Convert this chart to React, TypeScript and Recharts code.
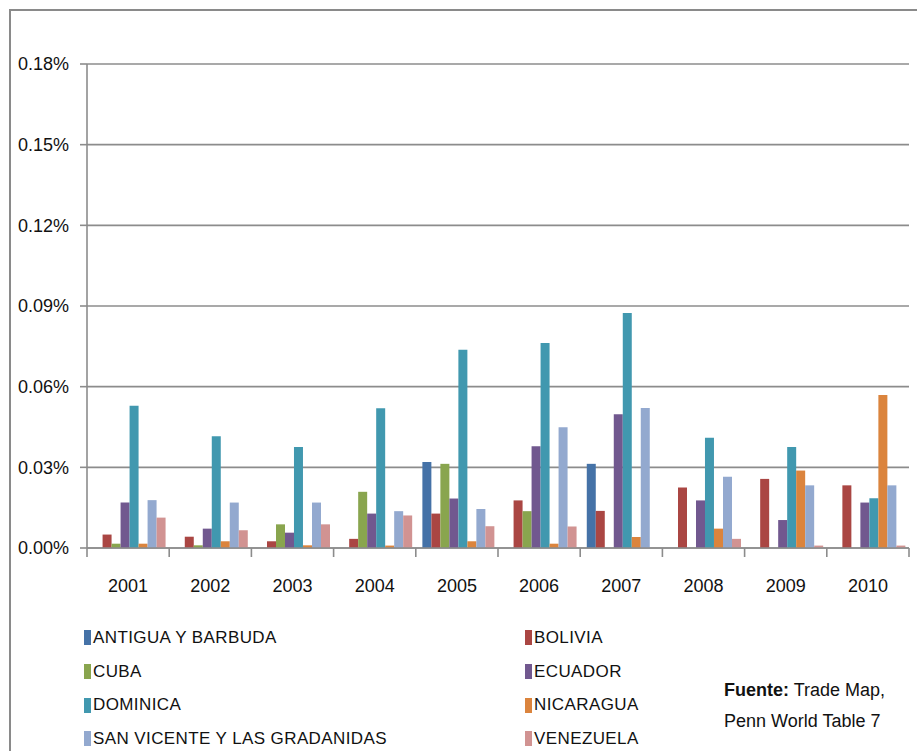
import React from "react"
import { BarChart, Bar, XAxis, YAxis, CartesianGrid, Legend } from "recharts"

// valores en % del PIB
const years = ["2001", "2002", "2003", "2004", "2005", "2006", "2007", "2008", "2009", "2010"]
const antigua = [0, 0, 0, 0, 0.032, 0, 0.0313, 0, 0, 0]
const bolivia = [0.005, 0.0042, 0.0025, 0.0034, 0.0128, 0.0177, 0.0138, 0.0225, 0.0257, 0.0233]
const cuba = [0.0016, 0.001, 0.0088, 0.0209, 0.0313, 0.0137, 0, 0, 0, 0]
const ecuador = [0.0169, 0.0072, 0.0057, 0.0128, 0.0184, 0.0378, 0.0497, 0.0177, 0.0104, 0.0169]
const dominica = [0.0529, 0.0416, 0.0376, 0.052, 0.0737, 0.0762, 0.0874, 0.041, 0.0376, 0.0185]
const nicaragua = [0.0016, 0.0025, 0.001, 0.0009, 0.0025, 0.0016, 0.0041, 0.0072, 0.0288, 0.0569]
const sanVicente = [0.0178, 0.0169, 0.0169, 0.0137, 0.0145, 0.0449, 0.0521, 0.0265, 0.0233, 0.0233]
const venezuela = [0.0113, 0.0066, 0.0088, 0.0121, 0.0081, 0.008, 0, 0.0034, 0.0009, 0.0009]
const yTicks = [0, 0.03, 0.06, 0.09, 0.12, 0.15, 0.18]

const series = [
  { key: "antigua", name: "ANTIGUA Y BARBUDA", values: antigua, color: "#4572A7" },
  { key: "bolivia", name: "BOLIVIA", values: bolivia, color: "#AA4643" },
  { key: "cuba", name: "CUBA", values: cuba, color: "#89A54E" },
  { key: "ecuador", name: "ECUADOR", values: ecuador, color: "#71588F" },
  { key: "dominica", name: "DOMINICA", values: dominica, color: "#4198AF" },
  { key: "nicaragua", name: "NICARAGUA", values: nicaragua, color: "#DB843D" },
  { key: "sanVicente", name: "SAN VICENTE Y LAS GRADANIDAS", values: sanVicente, color: "#93A9CF" },
  { key: "venezuela", name: "VENEZUELA", values: venezuela, color: "#D19392" },
]

const data = years.map((year, i) => {
  const row: Record<string, string | number> = { year }
  series.forEach((s) => {
    row[s.key] = s.values[i]
  })
  return row
})

const font = "'Liberation Sans', Arial, sans-serif"
const axisColor = "#8c8c8c"

// etiqueta del eje X + marcas en los bordes de cada categoría
const YearTick = (props: any) => {
  const { x, y, payload, index, visibleTicksCount } = props
  const half = payload.offset || 0
  const isLast = index === visibleTicksCount - 1
  return (
    <g>
      <line x1={x - half} x2={x - half} y1={y} y2={y + 9} stroke={axisColor} strokeWidth={1.6} />
      {isLast && <line x1={x + half} x2={x + half} y1={y} y2={y + 9} stroke={axisColor} strokeWidth={1.6} />}
      <text x={x} y={y + 44} textAnchor="middle" fill="#111" fontSize={18} fontFamily={font}>
        {payload.value}
      </text>
    </g>
  )
}

const renderLegend = () => (
  <div
    style={{
      display: "grid",
      gridTemplateColumns: "441px 300px",
      gridAutoRows: "33.7px",
      fontFamily: font,
      fontSize: 17,
      letterSpacing: 0.4,
      color: "#111",
    }}
  >
    {series.map((s) => (
      <div key={s.key} style={{ display: "flex", alignItems: "center" }}>
        <span style={{ display: "inline-block", width: 7, height: 15, background: s.color, marginRight: 2 }} />
        <span>{s.name}</span>
      </div>
    ))}
  </div>
)

export default function App() {
  return (
    <div style={{ position: "absolute", left: 0, top: 0, width: 917, height: 751, background: "#fff", overflow: "hidden" }}>
      <div
        style={{
          position: "absolute",
          left: 9,
          top: 9,
          width: 920,
          height: 760,
          borderTop: "2px solid #8a8a8a",
          borderLeft: "2px solid #8a8a8a",
        }}
      />
      <BarChart
        width={917}
        height={751}
        data={data}
        margin={{ top: 64, right: 8, left: 0, bottom: 163 }}
        barCategoryGap="8%"
        barGap={0}
        style={{ position: "absolute", left: 0, top: 0 }}
      >
        <CartesianGrid vertical={false} stroke={axisColor} strokeWidth={1.6} />
        <XAxis
          dataKey="year"
          height={40}
          interval={0}
          tickSize={0}
          tickMargin={0}
          axisLine={{ stroke: axisColor, strokeWidth: 1.6 }}
          tickLine={false}
          tick={<YearTick />}
        />
        <YAxis
          width={87}
          domain={[0, 0.18]}
          ticks={yTicks}
          interval={0}
          tickFormatter={(v: number) => `${v.toFixed(2)}%`}
          tickSize={7}
          tickMargin={11}
          axisLine={{ stroke: axisColor, strokeWidth: 1.6 }}
          tickLine={{ stroke: axisColor, strokeWidth: 1.6 }}
          tick={{ fill: "#111", fontSize: 18, fontFamily: font }}
        />
        <Legend
          layout="vertical"
          align="center"
          verticalAlign="middle"
          content={renderLegend}
          wrapperStyle={{ left: 84, top: 621, width: 760 }}
        />
        {series.map((s) => (
          <Bar key={s.key} dataKey={s.key} name={s.name} fill={s.color} isAnimationActive={false} />
        ))}
      </BarChart>
      <div
        style={{
          position: "absolute",
          left: 724,
          top: 675,
          fontFamily: font,
          fontSize: 18,
          lineHeight: "31px",
          color: "#111",
        }}
      >
        <b>Fuente:</b> Trade Map,
        <br />
        Penn World Table 7
      </div>
    </div>
  )
}
